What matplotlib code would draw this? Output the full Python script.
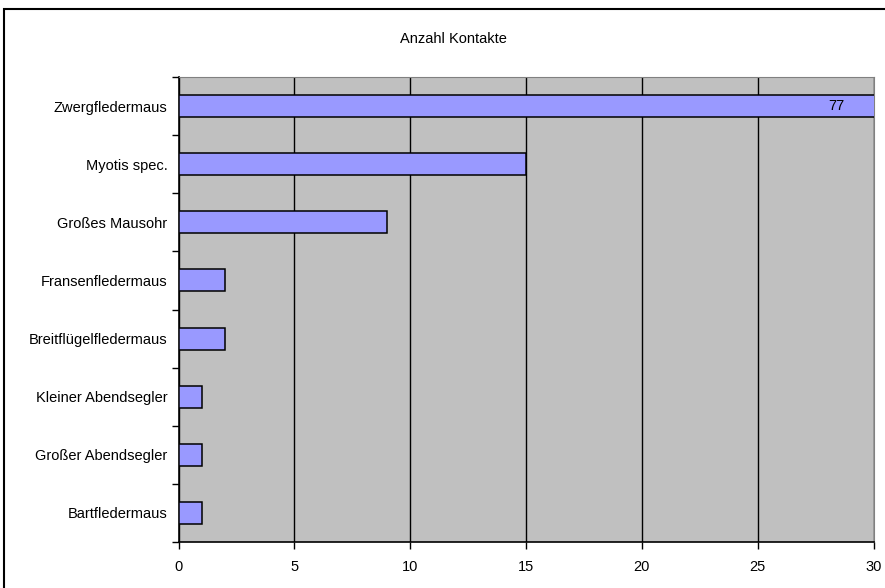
import matplotlib.pyplot as plt
from matplotlib.patches import Rectangle

# Fledermaus-Arten und Anzahl Kontakte (von oben nach unten)
arten = ["Zwergfledermaus", "Myotis spec.", "Großes Mausohr", "Fransenfledermaus",
         "Breitflügelfledermaus", "Kleiner Abendsegler", "Großer Abendsegler",
         "Bartfledermaus"]
kontakte = [77, 15, 9, 2, 2, 1, 1, 1]
x_ticks = [0, 5, 10, 15, 20, 25, 30]

plt.rcParams['font.family'] = ['Liberation Sans', 'DejaVu Sans']
plt.rcParams['font.size'] = 10.5

fig = plt.figure(figsize=(8.85, 5.88), dpi=100)
ax = fig.add_axes([178.5 / 885, 1 - 542 / 588, 695 / 885, 465 / 588])
ax.set_facecolor('#C0C0C0')

pos = list(range(len(arten)))
ax.barh(pos, kontakte, height=0.38, color='#9999FF', edgecolor='black',
        linewidth=1.1, zorder=3)

# Balken über 30 wird abgeschnitten, Wert trotzdem anzeigen
for p, k in zip(pos, kontakte):
    if k > x_ticks[-1]:
        ax.annotate(str(k), (x_ticks[-1], p), xytext=(-21, 0),
                    textcoords='offset points', ha='right', va='center',
                    zorder=4)

ax.set_xlim(0, 30)
ax.set_ylim(len(arten) - 0.5, -0.5)
ax.set_xticks(x_ticks)
ax.set_yticks(pos)
ax.set_yticklabels(arten)
ax.set_yticks([p - 0.5 for p in pos] + [len(arten) - 0.5], minor=True)
ax.tick_params(axis='y', which='major', length=0, pad=8)
ax.tick_params(axis='y', which='minor', length=5, width=1, direction='out')
ax.tick_params(axis='x', length=5, width=1, direction='out', pad=8)

ax.grid(axis='x', color='black', linewidth=1, zorder=0)
ax.set_axisbelow(True)
for s in ['top', 'right']:
    ax.spines[s].set_color('#808080')
for s in ['left', 'bottom']:
    ax.spines[s].set_color('black')
    ax.spines[s].set_linewidth(1.2)

fig.text(453.5 / 885, 1 - 39 / 588, "Anzahl Kontakte", ha='center', va='center')

# Rahmen um das Diagramm
fig.patches.append(Rectangle((4 / 885, -0.05), 1.1, 1.05 - 9 / 588,
                             transform=fig.transFigure, fill=False,
                             edgecolor='black', linewidth=1.5))

fig.savefig('out.png', dpi=100)
